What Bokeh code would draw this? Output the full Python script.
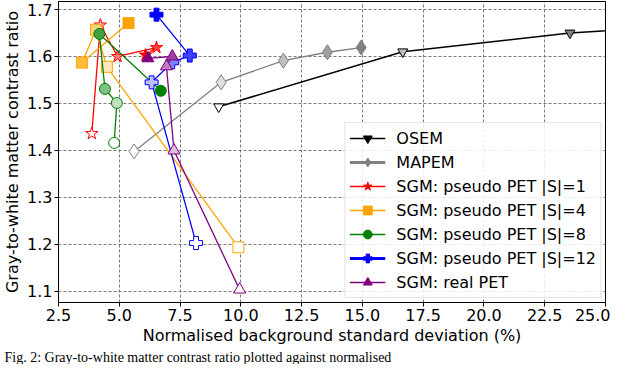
from bokeh.plotting import figure
from bokeh.models import Range1d, FixedTicker, CustomJSTickFormatter, Legend, LegendItem, Title, ColumnDataSource
from bokeh.embed import file_html
from bokeh.resources import INLINE

# ---------------- data ----------------
osem_x = [9.09, 16.66, 23.54, 29.0, 36.0]
osem_y = [1.493, 1.610, 1.650, 1.668, 1.680]

mapem_x = [5.61, 9.19, 11.75, 13.56, 14.95]
mapem_y = [1.398, 1.545, 1.591, 1.609, 1.619]

s1_x = [3.87, 4.22, 4.93, 6.53, 6.08]
s1_y = [1.436, 1.667, 1.600, 1.619, 1.603]

s4_x = [9.90, 4.49, 4.04, 3.47, 5.38]
s4_y = [1.194, 1.578, 1.657, 1.587, 1.671]

s8_x = [4.79, 4.90, 4.41, 4.18, 6.71]
s8_y = [1.416, 1.501, 1.531, 1.648, 1.527]

s12_x = [8.16, 6.33, 7.18, 7.90, 6.53]
s12_y = [1.203, 1.545, 1.5875, 1.602, 1.689]

real_x = [9.95, 7.25, 6.94, 7.18, 6.18]
real_y = [1.104, 1.400, 1.579, 1.600, 1.596]

labels = ["OSEM", "MAPEM", "SGM: pseudo PET |S|=1", "SGM: pseudo PET |S|=4",
          "SGM: pseudo PET |S|=8", "SGM: pseudo PET |S|=12", "SGM: real PET"]

x_ticks = [2.5, 5.0, 7.5, 10.0, 12.5, 15.0, 17.5, 20.0, 22.5, 25.0]
y_ticks = [1.1, 1.2, 1.3, 1.4, 1.5, 1.6, 1.7]

caption = "Fig. 2: Gray-to-white matter contrast ratio plotted against normalised"

# ---------------- styling ----------------
FONT = "DejaVu Sans"
shade = [0.0, 0.25, 0.5, 0.75, 1.0]
NAN = float("nan")


def blend(hexc, t):
    h = hexc.lstrip("#")
    r, g, b = int(h[0:2], 16), int(h[2:4], 16), int(h[4:6], 16)
    r = round(255 + (r - 255) * t)
    g = round(255 + (g - 255) * t)
    b = round(255 + (b - 255) * t)
    return "#%02x%02x%02x" % (r, g, b)


series = [
    (osem_x, osem_y, "#000000", "inverted_triangle", 10, 1.5, 1.5, 11),
    (mapem_x, mapem_y, "#808080", "diamond", 15, 1.3, 3.0, 15),
    (s1_x, s1_y, "#ff0000", "star", 13, 1.3, 1.5, 12),
    (s4_x, s4_y, "#ffa500", "square", 11, 1.3, 1.5, 11),
    (s8_x, s8_y, "#008000", "circle", 11, 1.3, 1.5, 11),
    (s12_x, s12_y, "#0000ff", "plus", 13, 1.3, 3.0, 12),
    (real_x, real_y, "#800080", "triangle", 12, 1.3, 1.5, 12),
]

YMIN, YMAX = 1.0765, 1.717
p = figure(width=610, height=364, output_backend="svg", toolbar_location=None,
           x_range=Range1d(2.5, 25.0), y_range=Range1d(YMIN, YMAX),
           min_border_left=54, min_border_right=5, min_border_top=1, min_border_bottom=58)
p.background_fill_color = "white"
p.border_fill_color = "white"
p.outline_line_color = "black"
p.outline_line_width = 1

for ax in (p.xaxis, p.yaxis):
    ax.axis_line_color = "black"
    ax.major_tick_line_color = "black"
    ax.major_tick_in = 0
    ax.major_tick_out = 4
    ax.minor_tick_line_color = None
    ax.major_label_text_font = FONT
    ax.major_label_text_font_size = "16px"
    ax.major_label_text_color = "black"
    ax.axis_label_text_font = FONT
    ax.axis_label_text_font_size = "16px"
    ax.axis_label_text_font_style = "normal"
    ax.axis_label_text_color = "black"
    ax.major_label_standoff = 2
    ax.axis_label_standoff = 2

p.xaxis.ticker = FixedTicker(ticks=x_ticks)
p.yaxis.ticker = FixedTicker(ticks=y_ticks)
p.xaxis.formatter = CustomJSTickFormatter(code="return tick.toFixed(1);")
p.yaxis.formatter = CustomJSTickFormatter(code="return tick.toFixed(1);")
p.xaxis.axis_label = "Normalised background standard deviation (%)"
p.yaxis.axis_label = "Gray-to-white matter contrast ratio"

for g in (p.xgrid, p.ygrid):
    g.grid_line_color = "#7a7a7a"
    g.grid_line_dash = "3 2"
    g.grid_line_width = 1

items = []
for (xs, ys, col, marker, size, lw, leg_lw, leg_size), lab in zip(series, labels):
    p.line(xs, ys, line_color=col, line_width=lw)
    fills = [blend(col, t) for t in shade[:len(xs)]]
    src = ColumnDataSource(dict(x=xs, y=ys, f=fills))
    p.scatter("x", "y", source=src, marker=marker, size=size,
              fill_color="f", line_color=col, line_width=1)
    # legend proxies (not visible in the plot area)
    lr = p.line([NAN, NAN], [NAN, NAN], line_color=col, line_width=leg_lw)
    sr = p.scatter([NAN], [NAN], marker=marker, size=leg_size, fill_color=col, line_color=col)
    items.append(LegendItem(label=lab, renderers=[lr, sr]))

legend = Legend(items=items, location="bottom_right")
legend.label_text_font = FONT
legend.label_text_font_size = "16px"
legend.label_text_color = "black"
legend.glyph_width = 36
legend.glyph_height = 22
legend.label_height = 20
legend.spacing = 2
legend.padding = 4
legend.margin = 4
legend.label_standoff = 11
legend.border_line_color = "#cccccc"
legend.border_line_width = 1
legend.background_fill_alpha = 0.85
p.add_layout(legend)

cap = Title(text=caption, align="left", text_font="Liberation Serif",
            text_font_size="14px", text_font_style="normal", text_color="black",
            standoff=0, offset=-54)
p.add_layout(cap, "below")

open("out.html", "w").write(file_html(p, INLINE))
